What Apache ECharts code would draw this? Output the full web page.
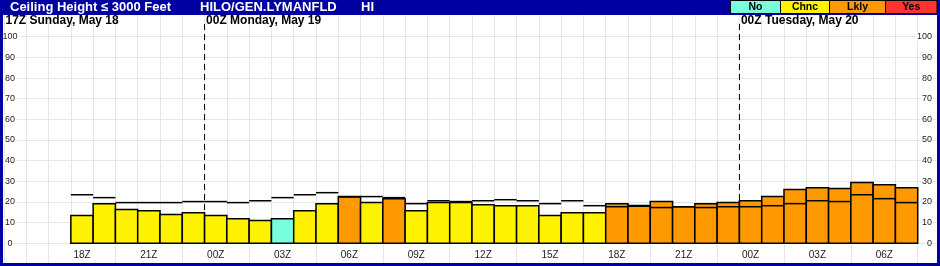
<!DOCTYPE html>
<html>
<head>
<meta charset="utf-8">
<script src="https://cdn.jsdelivr.net/npm/echarts@6/dist/echarts.min.js"></script>
<style>
  html, body { margin: 0; padding: 0; background: #fff; }
  #chart { width: 940px; height: 266px; }
</style>
</head>
<body>
<div id="chart"></div>
<script>
  // hourly columns of the time axis, 15Z May 18 .. 08Z May 20
  var axisHours = ['15Z','16Z','17Z','18Z','19Z','20Z','21Z','22Z','23Z',
    '00Z','01Z','02Z','03Z','04Z','05Z','06Z','07Z','08Z','09Z','10Z','11Z',
    '12Z','13Z','14Z','15Z','16Z','17Z','18Z','19Z','20Z','21Z','22Z','23Z',
    '00Z','01Z','02Z','03Z','04Z','05Z','06Z','07Z','08Z'];
  var firstBar = 3; // 18Z May 18

  // probability (%) of ceiling <= 3000 ft, one per hour 18Z May 18 .. 07Z May 20
  var barValues = [13.4, 19.2, 16.3, 15.8, 13.9, 14.8,
    13.4, 11.9, 11.0, 11.9, 15.8, 19.2, 22.6, 19.7, 21.6, 15.8, 19.7, 19.7,
    18.7, 18.2, 18.2, 13.4, 14.8, 14.8, 19.2, 17.9, 20.2, 17.7, 19.2, 19.7,
    20.6, 22.6, 26.0, 26.9, 26.5, 29.4, 28.4, 26.9];
  var lineValues = [23.5, 22.1, 19.7, 19.7, 19.7, 20.2,
    20.2, 19.7, 20.6, 22.1, 23.5, 24.5, 22.4, 22.6, 22.1, 19.2, 20.6, 20.2,
    20.6, 21.1, 20.6, 19.2, 20.6, 18.2, 17.7, 18.3, 17.3, 17.7, 17.3, 17.7,
    17.7, 18.2, 19.2, 20.6, 20.2, 23.5, 21.6, 19.7];
  var levels = ['Chnc','Chnc','Chnc','Chnc','Chnc','Chnc',
    'Chnc','Chnc','Chnc','No','Chnc','Chnc','Lkly','Chnc','Lkly','Chnc','Chnc','Chnc',
    'Chnc','Chnc','Chnc','Chnc','Chnc','Chnc','Lkly','Lkly','Lkly','Lkly','Lkly','Lkly',
    'Lkly','Lkly','Lkly','Lkly','Lkly','Lkly','Lkly','Lkly'];

  var legendNames = ['No', 'Chnc', 'Lkly', 'Yes'];
  var levelColors = { No: '#77FFDD', Chnc: '#FFF200', Lkly: '#FF9900', Yes: '#FF3333' };

  var dayLabels = ['17Z Sunday, May 18', '00Z Monday, May 19', '00Z Tuesday, May 20'];
  var dayLabelAt = [0, 9, 33];
  var dayBreaks = [9, 33];

  var FONT = '"Liberation Sans", Arial, sans-serif';
  var BLUE = '#0000A0';

  var barData = barValues.map(function (v, k) { return [k + firstBar, v]; });
  var lineData = lineValues.map(function (v, k) { return [k + firstBar, v]; });

  // legend boxes in the header
  var legendEdges = [730.5, 780.5, 829.5, 885.5, 937];
  var graphics = [
    { type: 'rect', z: 100, shape: { x: 0, y: 0, width: 940, height: 15 }, style: { fill: BLUE } },
    { type: 'rect', z: 100, shape: { x: 0, y: 0, width: 3, height: 266 }, style: { fill: BLUE } },
    { type: 'rect', z: 100, shape: { x: 937, y: 0, width: 3, height: 266 }, style: { fill: BLUE } },
    { type: 'rect', z: 100, shape: { x: 0, y: 263, width: 940, height: 3 }, style: { fill: BLUE } },
    { type: 'text', z: 101, x: 10, y: 7.5, style: { text: 'Ceiling Height \u2264 3000 Feet', fill: '#fff',
      fontSize: 13, fontWeight: 'bold', fontFamily: FONT, verticalAlign: 'middle' } },
    { type: 'text', z: 101, x: 200, y: 7.5, style: { text: 'HILO/GEN.LYMANFLD', fill: '#fff',
      fontSize: 13, fontWeight: 'bold', fontFamily: FONT, verticalAlign: 'middle' } },
    { type: 'text', z: 101, x: 361, y: 7.5, style: { text: 'HI', fill: '#fff',
      fontSize: 13, fontWeight: 'bold', fontFamily: FONT, verticalAlign: 'middle' } }
  ];
  legendNames.forEach(function (name, i) {
    var x0 = legendEdges[i], x1 = legendEdges[i + 1];
    graphics.push({ type: 'rect', z: 101, shape: { x: x0, y: 0.5, width: x1 - x0, height: 13 },
      style: { fill: levelColors[name], stroke: '#000', lineWidth: 1 } });
    graphics.push({ type: 'text', z: 102, x: (x0 + x1) / 2, y: 7.5,
      style: { text: name, fill: '#000', fontSize: 10.5, fontWeight: 'bold', fontFamily: FONT,
        align: 'center', verticalAlign: 'middle' } });
  });

  var gridBase = { left: 4, right: 0, containLabel: false, outerBoundsMode: 'none' };
  var myChart = echarts.init(document.getElementById('chart'));
  var option = {
    animation: false,
    textStyle: { fontFamily: FONT },
    graphic: graphics,
    grid: [
      Object.assign({ top: 36.7, bottom: 22.7 }, gridBase),
      Object.assign({ top: 15, bottom: 3 }, gridBase),
      Object.assign({ top: 24, bottom: 22.7 }, gridBase)
    ],
    xAxis: [
      {
        gridIndex: 0, type: 'category', data: axisHours, boundaryGap: true, z: 3,
        axisLine: { show: false }, axisTick: { show: false }, splitLine: { show: false },
        axisLabel: {
          interval: function (i) { return i >= firstBar && (i - firstBar) % 3 === 0; },
          fontSize: 10, color: '#222', margin: 1, width: 24, align: 'center',
          backgroundColor: '#fff', padding: [4, 0, 1, 0], lineHeight: 14
        }
      },
      {
        gridIndex: 1, type: 'value', min: 0, max: axisHours.length, interval: 1, z: 0,
        axisLine: { show: false }, axisTick: { show: false }, axisLabel: { show: false },
        splitLine: { show: true, lineStyle: { color: '#e6e6e6', width: 1 } }
      },
      { gridIndex: 2, type: 'value', min: 0, max: axisHours.length, show: false },
      { gridIndex: 0, type: 'value', min: 0, max: axisHours.length, show: false }
    ],
    yAxis: [
      {
        gridIndex: 0, type: 'value', min: 0, max: 100, interval: 10, position: 'left', z: 2,
        axisLine: { show: false }, axisTick: { show: false },
        axisLabel: { inside: true, align: 'center', margin: 6, fontSize: 9, color: '#222',
          backgroundColor: '#fff', padding: [0, 2] },
        splitLine: { show: true, lineStyle: { color: '#e6e6e6', width: 1 } }
      },
      {
        gridIndex: 0, type: 'value', min: 0, max: 100, interval: 10, position: 'right', z: 2,
        axisLine: { show: false }, axisTick: { show: false },
        axisLabel: { inside: true, margin: 7, fontSize: 9, color: '#222',
          backgroundColor: '#fff', padding: [0, 1] },
        splitLine: { show: false }
      },
      { gridIndex: 1, type: 'value', min: 0, max: 1, show: false },
      { gridIndex: 2, type: 'value', min: 0, max: 1, show: false }
    ],
    series: [
      {
        // hourly bars, coloured by probability category
        type: 'custom', xAxisIndex: 3, yAxisIndex: 0, z: 4,
        renderItem: function (params, api) {
          var p0 = api.coord([api.value(0), 0]);
          var p1 = api.coord([api.value(0) + 1, api.value(1)]);
          return { type: 'rect',
            shape: { x: p0[0], y: p1[1], width: p1[0] - p0[0], height: p0[1] - p1[1] },
            style: { fill: levelColors[levels[params.dataIndex]], stroke: '#000', lineWidth: 1.5 } };
        },
        data: barData
      },
      {
        type: 'custom', xAxisIndex: 3, yAxisIndex: 0, z: 5,
        renderItem: function (params, api) {
          var p0 = api.coord([api.value(0), api.value(1)]);
          var p1 = api.coord([api.value(0) + 1, api.value(1)]);
          return { type: 'line', shape: { x1: p0[0], y1: p0[1], x2: p1[0], y2: p1[1] },
            style: { stroke: '#000', lineWidth: 1.5 } };
        },
        data: lineData
      },
      {
        type: 'custom', xAxisIndex: 2, yAxisIndex: 3, z: 6, clip: false,
        renderItem: function (params, api) {
          var top = api.coord([api.value(0), 1]);
          var bot = api.coord([api.value(0), 0]);
          return { type: 'line', shape: { x1: top[0], y1: top[1], x2: bot[0], y2: bot[1] },
            style: { stroke: '#000', lineWidth: 1, lineDash: [6, 4] } };
        },
        data: dayBreaks.map(function (x) { return [x]; })
      },
      {
        type: 'custom', xAxisIndex: 2, yAxisIndex: 3, z: 6, clip: false,
        renderItem: function (params, api) {
          var p = api.coord([api.value(0), 1]);
          return { type: 'text', x: p[0] + 1.5, y: p[1] - 3,
            style: { text: dayLabels[params.dataIndex], fill: '#000', fontSize: 12,
              fontWeight: 'bold', fontFamily: FONT, verticalAlign: 'middle' } };
        },
        data: dayLabelAt.map(function (x) { return [x]; })
      }
    ]
  };
  myChart.setOption(option);
</script>
</body>
</html>
